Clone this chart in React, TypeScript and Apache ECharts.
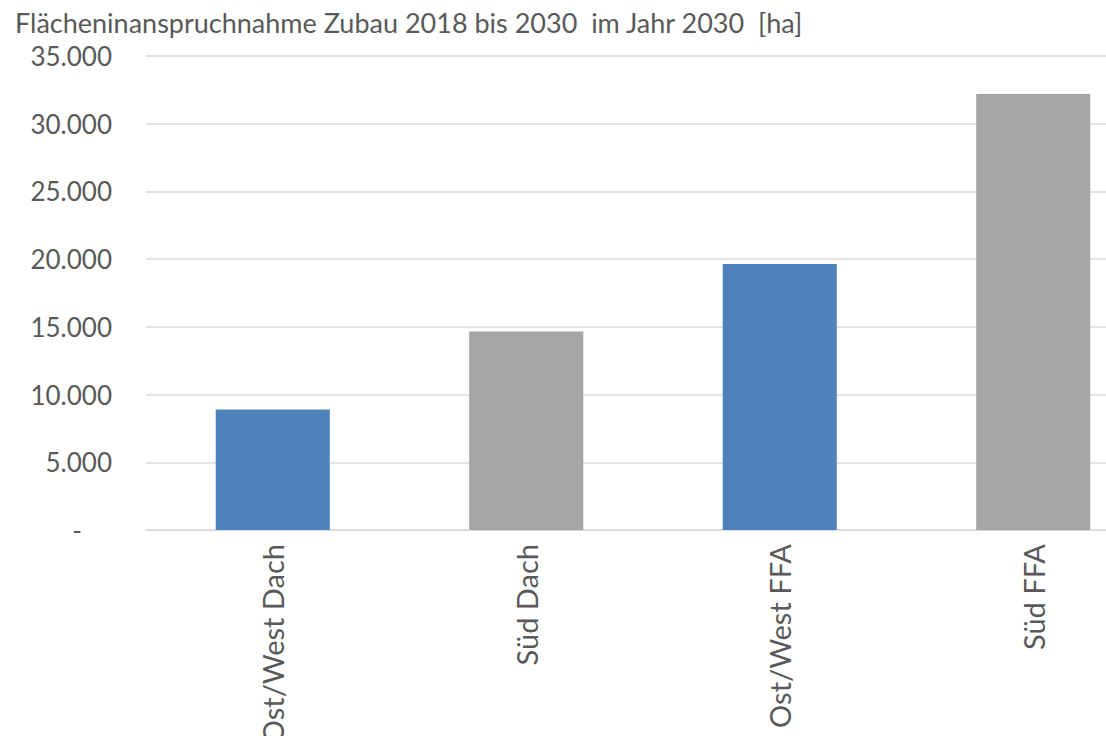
import React, { useEffect, useRef } from "react";
import * as echarts from "echarts";

const categories = ["Ost/West Dach", "Süd Dach", "Ost/West FFA", "Süd FFA"];
const values = [8900, 14650, 19650, 32200];
const barColors = ["#4F81BD", "#A5A5A5", "#4F81BD", "#A5A5A5"];
const titleText = "Flächeninanspruchnahme Zubau 2018 bis 2030  im Jahr 2030  [ha]";

const fmt = (v: number) => (v === 0 ? "{z|-}" : v.toLocaleString("de-DE"));

export default function App() {
  const ref = useRef<HTMLDivElement>(null);
  useEffect(() => {
    document.body.style.margin = "0";
    document.body.style.overflow = "hidden";
    const chart = echarts.init(ref.current!, null, { renderer: "svg" });
    chart.setOption({
      animation: false,
      title: {
        text: titleText,
        left: 10,
        top: 4,
        textStyle: { fontFamily: "Lato", fontSize: 27, fontWeight: "normal", color: "#595959" },
      },
      grid: {
        left: 146,
        right: 0,
        top: 56,
        bottom: 206,
        containLabel: false,
        outerBoundsMode: "none",
      },
      xAxis: {
        type: "category",
        data: categories,
        axisLine: { show: true, lineStyle: { color: "#D9D9D9", width: 1.5 } },
        axisTick: { show: false },
        axisLabel: {
          rotate: 90,
          margin: 14,
          fontFamily: "Lato",
          fontSize: 29,
          color: "#595959",
        },
      },
      yAxis: {
        type: "value",
        min: 0,
        max: 35000,
        interval: 5000,
        axisLine: { show: false },
        axisTick: { show: false },
        splitLine: { lineStyle: { color: "#D9D9D9", width: 1.5 } },
        axisLabel: {
          margin: 34,
          fontFamily: "Lato",
          fontSize: 26,
          color: "#595959",
          formatter: fmt,
          rich: {
            z: { fontFamily: "Lato", fontSize: 26, color: "#595959", padding: [0, 30, 0, 0] },
          },
        },
      },
      series: [
        {
          type: "bar",
          data: values.map((v, i) => ({ value: v, itemStyle: { color: barColors[i] } })),
          barWidth: "45%",
        },
      ],
    });
    return () => chart.dispose();
  }, []);
  return (
    <div style={{ width: 1106, height: 736, overflow: "hidden" }}>
      <div ref={ref} style={{ width: 1160, height: 736 }} />
    </div>
  );
}
